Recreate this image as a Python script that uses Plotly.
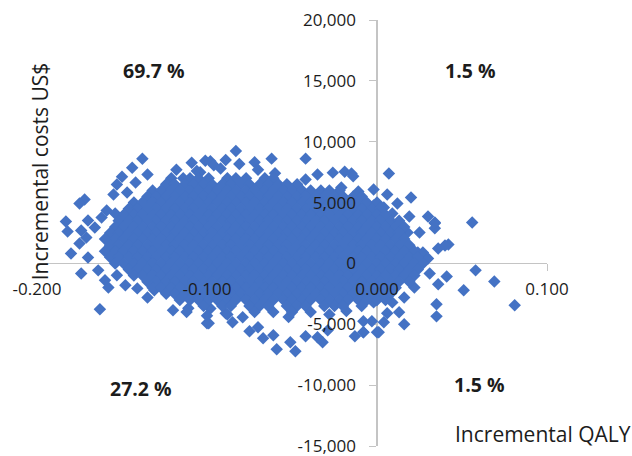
import plotly.graph_objects as go

# Outer points
edge_qaly = [-0.138,-0.144,-0.150,-0.135,-0.153,-0.147,-0.142,-0.155,-0.172,-0.175,-0.183,-0.182,-0.170,-0.166,-0.174,-0.171,-0.175,-0.159,-0.162,-0.154,-0.180,-0.170,-0.174,-0.164,-0.160,-0.158,-0.153,-0.148,-0.141,-0.163,-0.135,-0.131,-0.120,-0.111,-0.100,-0.126,-0.120,-0.109,-0.106,-0.101,-0.114,
 -0.098,-0.096,-0.089,-0.083,-0.081,-0.072,-0.062,-0.042,-0.035,-0.042,-0.026,-0.019,-0.015,-0.014,-0.021,-0.011,-0.002,-0.008,
 -0.099,-0.085,-0.075,-0.070,-0.067,-0.059,-0.048,-0.051,-0.042,-0.035,-0.032,-0.029,-0.013,-0.008,-0.003,0.000,-0.089,-0.079,-0.061,-0.098,
 0.007,-0.002,0.006,0.020,0.012,0.004,0.009,0.019,0.030,0.034,0.034,0.034,0.056,0.013,0.025,0.018,0.042,0.040,0.036,0.024,0.027,0.030,
 0.058,0.041,0.036,0.031,0.069,0.051,0.081,0.035,0.035,0.022,0.016,0.013,0.016,0.006,0.001,0.004,-0.002,-0.008,-0.008,0.009,0.000,
 -0.118,-0.104,-0.092,-0.070,-0.060,-0.112,-0.100,-0.088,-0.052,-0.028,-0.018]
edge_cost = [8600,7860,7130,7300,6480,5820,6640,5660,5250,4920,3440,2620,3530,2950,2710,2130,1640,4350,3770,4100,820,490,-820,-570,-1390,-1970,-980,-1800,-2050,-3770,-2790,-2210,-3850,-3690,-4920,-1400,-1230,8280,7590,8430,7000,
 8400,8070,8490,9230,8160,8320,8610,8610,7300,6890,7460,7540,7380,7170,6230,5910,4760,4760,
 -4920,-4840,-5580,-5250,-6150,-7050,-7210,-6480,-5990,-6070,-6480,-5500,-5990,-5660,-4760,-5660,-4090,-4430,-5910,-3700,
 7380,6070,5660,5410,4920,4590,4100,3850,3850,3300,2890,3360,3360,3360,2540,2540,1560,1480,1230,900,900,410,
 -570,-1070,-1720,-820,-1480,-2210,-3440,-3360,-4350,-1970,-2790,-4020,-4990,-4100,-5660,-4840,-3200,-4760,-5660,-3200,-2950,
 7700,7500,7800,7700,7400,-4000,-4300,-4200,-4400,-4200,-3900]

# Dense centre of the cloud, row by row (QALY in thousandths at each cost level)
row_costs = [7000,6500,6000,5500,5000,4500,4000,3500,3000,2500,2000,1500,1000,500,0,-500,-1000,-1500,-2000,-2500,-3000,-3500,-4000]
q7000 = [-121,-110,-105,-99,-88,-83,-77,-66,-61]
q6500 = [-124,-119,-113,-108,-102,-97,-91,-86,-80,-75,-69,-64,-58,-53,-47]
q6000 = [-132,-127,-121,-116,-110,-105,-99,-94,-88,-83,-77,-72,-66,-61,-55,-50,-44,-39,-33,-28,-22]
q5500 = [-135,-130,-124,-119,-113,-108,-102,-97,-91,-86,-80,-75,-69,-64,-58,-53,-47,-42,-36,-31,-25,-20,-14,-9]
q5000 = [-143,-138,-132,-127,-121,-116,-110,-105,-99,-94,-88,-83,-77,-72,-66,-61,-55,-50,-44,-39,-33,-28,-22,-17,-11,-6,0]
q4500 = [-146,-141,-135,-130,-124,-119,-113,-108,-102,-97,-91,-86,-80,-75,-69,-64,-58,-53,-47,-42,-36,-31,-25,-20,-14,-9,-3,2]
q4000 = [-149,-143,-138,-132,-127,-121,-116,-110,-105,-99,-94,-88,-83,-77,-72,-66,-61,-55,-50,-44,-39,-33,-28,-22,-17,-11,-6,0,5]
q3500 = [-152,-146,-141,-135,-130,-124,-119,-113,-108,-102,-97,-91,-86,-80,-75,-69,-64,-58,-53,-47,-42,-36,-31,-25,-20,-14,-9,-3,2,8,13]
q3000 = [-154,-149,-143,-138,-132,-127,-121,-116,-110,-105,-99,-94,-88,-83,-77,-72,-66,-61,-55,-50,-44,-39,-33,-28,-22,-17,-11,-6,0,5,11,16]
q2500 = [-157,-152,-146,-141,-135,-130,-124,-119,-113,-108,-102,-97,-91,-86,-80,-75,-69,-64,-58,-53,-47,-42,-36,-31,-25,-20,-14,-9,-3,2,8,13]
q2000 = [-160,-154,-149,-143,-138,-132,-127,-121,-116,-110,-105,-99,-94,-88,-83,-77,-72,-66,-61,-55,-50,-44,-39,-33,-28,-22,-17,-11,-6,0,5,11,16]
q1500 = [-157,-152,-146,-141,-135,-130,-124,-119,-113,-108,-102,-97,-91,-86,-80,-75,-69,-64,-58,-53,-47,-42,-36,-31,-25,-20,-14,-9,-3,2,8,13,19]
q1000 = [-160,-154,-149,-143,-138,-132,-127,-121,-116,-110,-105,-99,-94,-88,-83,-77,-72,-66,-61,-55,-50,-44,-39,-33,-28,-22,-17,-11,-6,0,5,11,16,22]
q500 = [-157,-152,-146,-141,-135,-130,-124,-119,-113,-108,-102,-97,-91,-86,-80,-75,-69,-64,-58,-53,-47,-42,-36,-31,-25,-20,-14,-9,-3,2,8,13,19,24]
q0 = [-154,-149,-143,-138,-132,-127,-121,-116,-110,-105,-99,-94,-88,-83,-77,-72,-66,-61,-55,-50,-44,-39,-33,-28,-22,-17,-11,-6,0,5,11,16,22,27]
qm500 = [-146,-141,-135,-130,-124,-119,-113,-108,-102,-97,-91,-86,-80,-75,-69,-64,-58,-53,-47,-42,-36,-31,-25,-20,-14,-9,-3,2,8,13,19,24]
qm1000 = [-143,-138,-132,-127,-121,-116,-110,-105,-99,-94,-88,-83,-77,-72,-66,-61,-55,-50,-44,-39,-33,-28,-22,-17,-11,-6,0,5,11,16,22]
qm1500 = [-135,-130,-124,-119,-113,-108,-102,-97,-91,-86,-80,-75,-69,-64,-58,-53,-47,-42,-36,-31,-25,-20,-14,-9,-3,2,8,13,19]
qm2000 = [-132,-127,-121,-116,-110,-105,-99,-94,-88,-83,-77,-72,-66,-61,-55,-50,-44,-39,-33,-28,-22,-17,-11,-6,0,5,11]
qm2500 = [-124,-119,-113,-108,-102,-97,-91,-86,-80,-75,-69,-64,-58,-53,-47,-42,-36,-31,-25,-20,-14,-9,-3,2,8]
qm3000 = [-116,-110,-105,-99,-94,-88,-83,-77,-72,-66,-61,-55,-50,-44,-39,-33,-28,-22,-17,-11,-6,0,5]
qm3500 = [-102,-91,-86,-75,-69,-64,-53,-47,-42,-31,-25,-20,-9]
qm4000 = [-72,-61,-50,-39]
row_qalys = [q7000,q6500,q6000,q5500,q5000,q4500,q4000,q3500,q3000,q2500,q2000,q1500,q1000,q500,q0,qm500,qm1000,qm1500,qm2000,qm2500,qm3000,qm3500,qm4000]

x_ticks = [-0.2,-0.1,0.0,0.1]
x_labels = ["-0.200","-0.100","0.000","0.100"]
y_ticks = [-15000,-10000,-5000,0,5000,10000,15000,20000]
y_labels = ["-15,000","-10,000","-5,000","0","5,000","10,000","15,000","20,000"]

quadrant_text = ["69.7 %","1.5 %","27.2 %","1.5 %"]
quadrant_x = [-0.131,0.055,-0.139,0.060]
quadrant_y = [15830,15830,-10250,-9920]

qaly = list(edge_qaly)
cost = list(edge_cost)
for c, row in zip(row_costs, row_qalys):
    qaly += [v/1000 for v in row]
    cost += [c]*len(row)

FONT = "Open Sans"
INK = "#1c1c1c"
AXIS = "#c4c4c4"

fig = go.Figure()
fig.add_trace(go.Scatter(x=qaly, y=cost, mode="markers", showlegend=False,
    marker=dict(symbol="diamond", size=9.6, color="#4472c4", line=dict(width=0))))
fig.add_trace(go.Scatter(x=[None], y=[None], xaxis="x2", yaxis="y2", mode="markers", showlegend=False))

base_x = dict(range=[-0.2,0.1], domain=[0,1], anchor="free", position=183/426, tickmode="array", tickvals=x_ticks, showgrid=False, zeroline=False)
base_y = dict(range=[-15000,20000], domain=[0,1], anchor="free", position=340/510, tickmode="array", tickvals=y_ticks, showgrid=False, zeroline=False)

fig.update_layout(
    width=632, height=480, margin=dict(l=37,r=85,t=24,b=30), autosize=False,
    paper_bgcolor="white", plot_bgcolor="white", showlegend=False,
    xaxis=dict(**base_x, showline=True, linecolor=AXIS, linewidth=1, ticks="outside", ticklen=7, tickcolor=AXIS, showticklabels=False, layer="below traces"),
    yaxis=dict(**base_y, showline=True, linecolor=AXIS, linewidth=1.5, ticks="outside", ticklen=7, tickcolor=AXIS, showticklabels=False, layer="below traces"),
    xaxis2=dict(**base_x, overlaying="x", ticktext=x_labels, showline=False, ticks="", ticklabelstandoff=14, tickfont=dict(family=FONT,size=17,color=INK)),
    yaxis2=dict(**base_y, overlaying="y", ticktext=y_labels, showline=False, ticks="", ticklabelstandoff=21, tickfont=dict(family=FONT,size=17,color=INK)),
)
for t,x,y in zip(quadrant_text,quadrant_x,quadrant_y):
    fig.add_annotation(x=x,y=y,text=f"<b>{t}</b>",showarrow=False,font=dict(family=FONT,size=19.5,color=INK))
fig.add_annotation(x=-0.198,y=7600,text="Incremental costs US$",textangle=-90,showarrow=False,font=dict(family=FONT,size=21,color=INK))
fig.add_annotation(x=0.0976,y=-14000,text="Incremental QALY",showarrow=False,font=dict(family=FONT,size=21,color=INK))

fig.write_html("out.html",
    post_script="document.body.style.margin='0';document.body.style.overflow='hidden';document.documentElement.style.overflow='hidden';document.querySelector('.plotly-graph-div').style.marginTop='-4px';",
    config={"displayModeBar": False})
